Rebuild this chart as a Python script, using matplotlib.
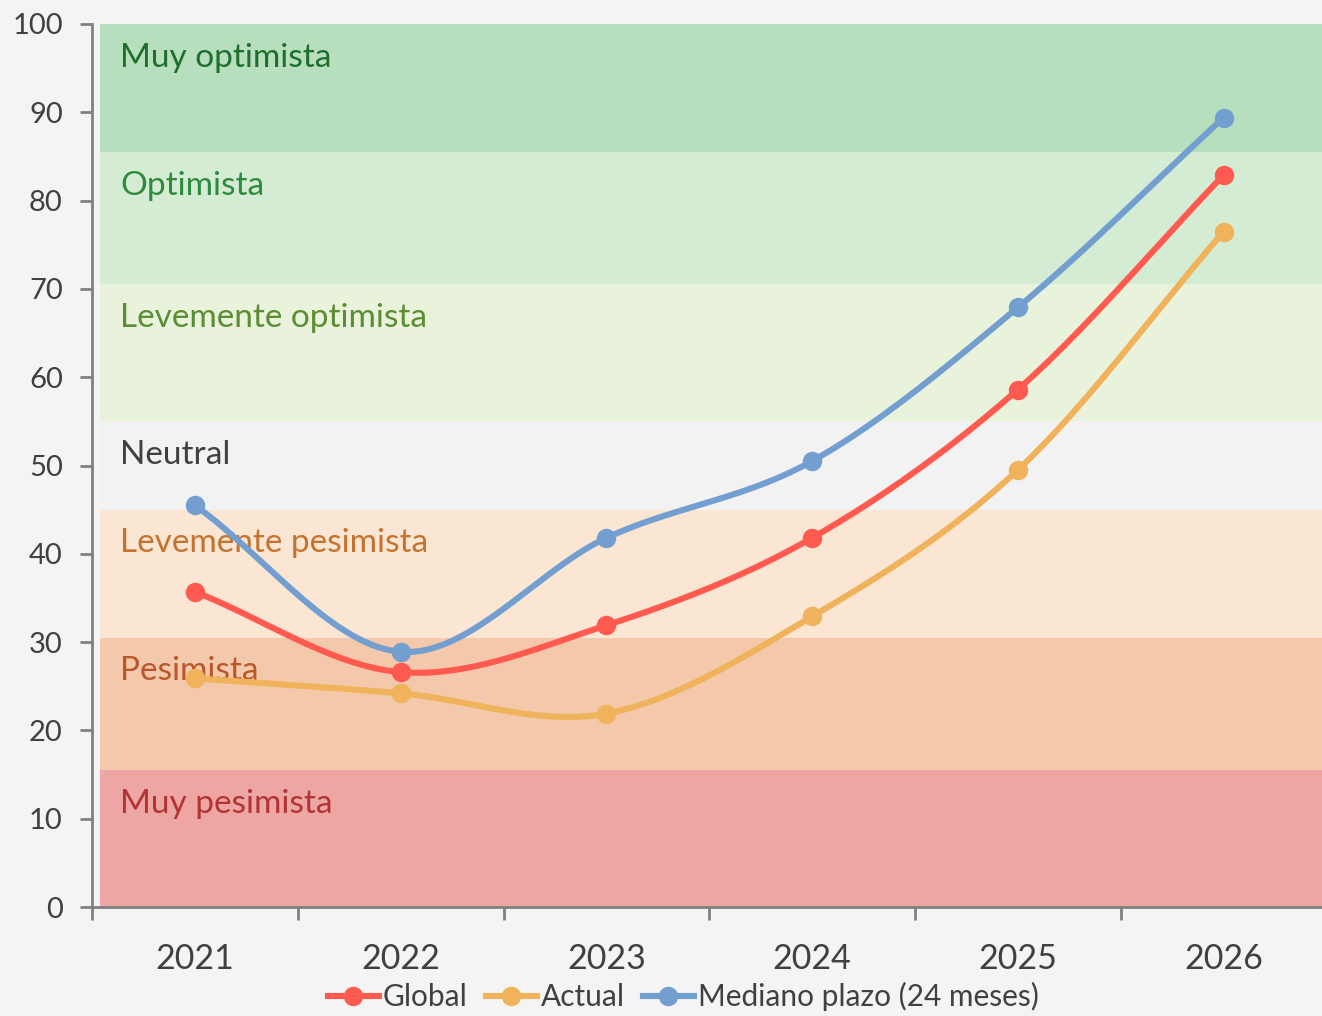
import matplotlib.pyplot as plt
import numpy as np

years = ['2021', '2022', '2023', '2024', '2025', '2026']
global_idx = [35.7, 26.6, 31.9, 41.8, 58.6, 82.9]
actual_idx = [25.9, 24.2, 21.9, 32.9, 49.5, 76.5]
mediano_idx = [45.5, 28.9, 41.8, 50.5, 67.9, 89.4]

band_names = ['Muy pesimista', 'Pesimista', 'Levemente pesimista', 'Neutral',
              'Levemente optimista', 'Optimista', 'Muy optimista']
band_edges = [0, 15.5, 30.5, 45, 55, 70.5, 85.5, 100]
band_colors = ['#eea6a4', '#f4c8aa', '#fbe6d3', '#f2f2f2', '#e9f3dc', '#d4ecd4', '#b7dfbd']
band_text = ['#b23333', '#b9562a', '#c4722e', '#404040', '#5b8d32', '#2f8a3e', '#1f6e2e']


def smooth(xs, ys, n=40):
    # catmull-rom, roughly what excel's smoothed line looks like
    p = np.column_stack([xs, ys]).astype(float)
    p = np.vstack([p[0] - (p[1] - p[0]), p, p[-1] + (p[-1] - p[-2])])
    out = []
    t = np.linspace(0, 1, n)[:, None]
    for i in range(1, len(p) - 2):
        p0, p1, p2, p3 = p[i - 1], p[i], p[i + 1], p[i + 2]
        seg = 0.5 * ((2 * p1) + (-p0 + p2) * t + (2 * p0 - 5 * p1 + 4 * p2 - p3) * t ** 2
                     + (-p0 + 3 * p1 - 3 * p2 + p3) * t ** 3)
        out.append(seg)
    out = np.vstack(out)
    return out[:, 0], out[:, 1]


plt.rcParams['font.family'] = ['Lato', 'DejaVu Sans']
bg = '#f4f4f4'
fig = plt.figure(figsize=(13.22, 10.16), dpi=100, facecolor=bg)
# axis runs a few px past the right edge of the image, as in the original
ax = fig.add_axes([92 / 1322, 109 / 1016, 1234.5 / 1322, (907 - 24) / 1016])
ax.set_facecolor(bg)

x = np.arange(len(years))
x0 = -0.461
for i in range(len(band_names)):
    ax.fill_between([x0, 5.5], band_edges[i], band_edges[i + 1], color=band_colors[i], lw=0, zorder=1)
    ax.text(-0.364, band_edges[i + 1] - 3.8, band_names[i], color=band_text[i],
            fontsize=24, va='center', ha='left', zorder=2)

series = [('Global', global_idx, '#ff5a4f'),
          ('Actual', actual_idx, '#f0b25a'),
          ('Mediano plazo (24 meses)', mediano_idx, '#739fd0')]
for name, vals, col in series:
    sx, sy = smooth(x, vals)
    ax.plot(sx, sy, color=col, lw=4.4, zorder=3, solid_capstyle='round')
    ax.plot(x, vals, 'o', color=col, ms=13, zorder=4)
    ax.plot([], [], '-o', color=col, lw=4.4, ms=13, label=name)

ax.set_xlim(-0.5, 5.5)
ax.set_ylim(0, 100)
ax.set_yticks(range(0, 101, 10))
ax.set_xticks(x)
ax.set_xticklabels(years, fontsize=24.5, color='#404040')
ax.set_xticks(np.arange(-0.5, 5.6, 1), minor=True)
ax.tick_params(axis='x', which='major', length=0, pad=26)
ax.tick_params(axis='x', which='minor', length=9, width=2, color='#808080', direction='out')
ax.tick_params(axis='y', length=9, width=2, color='#808080', labelsize=21, labelcolor='#404040', pad=12)

for s in ['top', 'right']:
    ax.spines[s].set_visible(False)
for s in ['left', 'bottom']:
    ax.spines[s].set_color('#808080')
    ax.spines[s].set_linewidth(2)
    ax.spines[s].set_zorder(5)

fig.legend(loc='lower center', bbox_to_anchor=(0.517, -0.022), ncol=3, frameon=False,
           fontsize=21.5, handlelength=1.7, handletextpad=0.15, columnspacing=0.6,
           labelcolor='#404040')

fig.savefig('out.png', dpi=100, facecolor=bg)
